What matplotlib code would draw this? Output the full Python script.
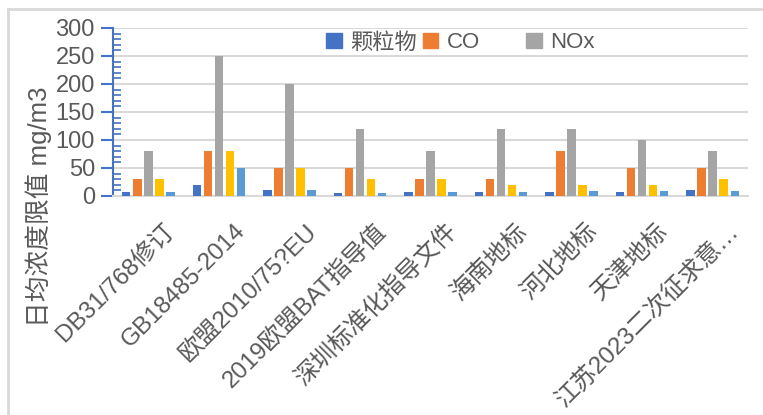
import matplotlib
matplotlib.use("Agg")
import matplotlib.pyplot as plt
from matplotlib.ticker import MultipleLocator
from matplotlib.lines import Line2D
from matplotlib.patches import Patch
import numpy as np

categories = ["DB31/768修订", "GB18485-2014", "欧盟2010/75?EU", "2019欧盟BAT指导值",
              "深圳标准化指导文件", "海南地标", "河北地标", "天津地标", "江苏2023二次征求意…"]
pm = [8, 20, 10, 5, 8, 8, 8, 8, 10]
co = [30, 80, 50, 50, 30, 30, 80, 50, 50]
nox = [80, 250, 200, 120, 80, 120, 120, 100, 80]
so2 = [30, 80, 50, 30, 30, 20, 20, 20, 30]
hcl = [8, 50, 10, 5, 8, 8, 9, 9, 9]
series_names = ["颗粒物", "CO", "NOx", "SO2", "HCl"]
colors = ["#4472C4", "#ED7D31", "#A5A5A5", "#FFC000", "#5B9BD5"]
y_ticks = [0, 50, 100, 150, 200, 250, 300]
y_label = "日均浓度限值 mg/m3"

fam = ["Liberation Sans", "Noto Sans CJK SC", "DejaVu Sans"]
plt.rcParams["font.family"] = fam
txt = "#595959"

W, H = 763, 415
fig = plt.figure(figsize=(W / 100, H / 100), dpi=100)
ax = fig.add_axes([113 / W, 1 - 196 / H, (748 - 113) / W, (196 - 28) / H])

x = np.arange(len(categories))
step = 0.156
width = 0.12
data = [pm, co, nox, so2, hcl]
for i, (vals, c) in enumerate(zip(data, colors)):
    ax.bar(x + (i - 2) * step, vals, width=width, color=c, zorder=3)

ax.set_xlim(-0.5, len(categories) - 0.5)
ax.set_ylim(0, 300)
ax.set_yticks(y_ticks)
ax.yaxis.set_minor_locator(MultipleLocator(10))
ax.grid(axis="y", color="#D9D9D9", linewidth=1.5, zorder=0)
for s in ["top", "right"]:
    ax.spines[s].set_visible(False)
ax.spines["bottom"].set_color("#D9D9D9")
ax.spines["bottom"].set_linewidth(1.5)
ax.spines["left"].set_color("#4472C4")
ax.spines["left"].set_linewidth(1.5)
ax.tick_params(axis="y", which="major", direction="out", length=9, width=1.5,
               color="#4472C4", labelsize=17, labelcolor=txt, pad=4)
ax.tick_params(axis="y", which="minor", direction="in", length=6, width=1.2,
               color="#4472C4")
ax.tick_params(axis="x", length=0)
ax.set_xticks(x)
ax.set_xticklabels([])
for xi, lab in zip(x, categories):
    ax.annotate(lab, xy=(xi, 0), xycoords=("data", "axes fraction"),
                xytext=(15, -24), textcoords="offset pixels",
                rotation=45, ha="right", va="top", rotation_mode="anchor",
                fontsize=17.5, color=txt)

fig.text(38.5 / W, 1 - 207 / H, y_label, rotation=90, ha="center", va="center",
         fontsize=18.5, color=txt)

h = [Patch(color=colors[0]), Patch(color=colors[1])]
leg1 = ax.legend(h, series_names[:2], loc="center left",
                 bbox_to_anchor=(326 / W, 1 - 43 / H), bbox_transform=fig.transFigure,
                 ncol=2, frameon=False, fontsize=16, handlelength=0.7, handleheight=0.7,
                 handletextpad=0.4, columnspacing=0.25, borderaxespad=0, borderpad=0,
                 labelcolor=txt)
ax.add_artist(leg1)
leg2 = ax.legend([Patch(color=colors[2])], [series_names[2]], loc="center left",
                 bbox_to_anchor=(526 / W, 1 - 43 / H), bbox_transform=fig.transFigure,
                 frameon=False, fontsize=16, handlelength=0.7, handleheight=0.7,
                 handletextpad=0.4, borderaxespad=0, borderpad=0, labelcolor=txt)

fig.add_artist(Line2D([8 / W, 1], [1 - 9 / H, 1 - 9 / H], color="#D9D9D9", linewidth=2))
fig.add_artist(Line2D([8 / W, 8 / W], [0, 1 - 9 / H], color="#D9D9D9", linewidth=2))

fig.savefig("out.png", dpi=100)
